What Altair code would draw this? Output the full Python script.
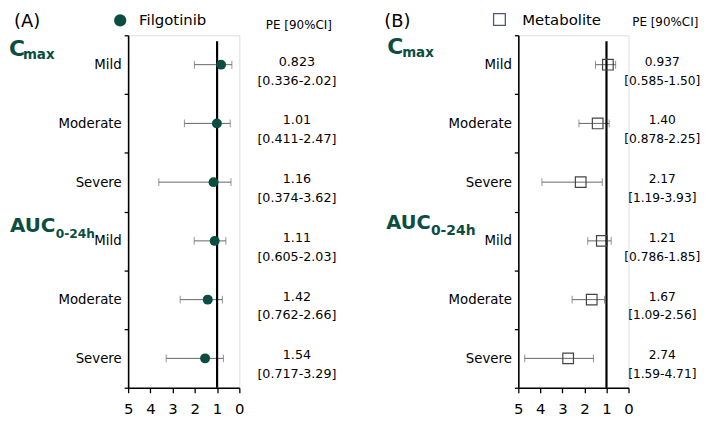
import altair as alt
import pandas as pd

keys = ["Cmax|Mild", "Cmax|Moderate", "Cmax|Severe", "AUC|Mild", "AUC|Moderate", "AUC|Severe"]

filgo_pe = [0.823, 1.01, 1.16, 1.11, 1.42, 1.54]
filgo_lo = [0.336, 0.411, 0.374, 0.605, 0.762, 0.717]
filgo_hi = [2.02, 2.47, 3.62, 2.03, 2.66, 3.29]
filgo_pe_txt = ["0.823", "1.01", "1.16", "1.11", "1.42", "1.54"]
filgo_ci_txt = ["[0.336-2.02]", "[0.411-2.47]", "[0.374-3.62]", "[0.605-2.03]", "[0.762-2.66]", "[0.717-3.29]"]

metab_pe = [0.937, 1.40, 2.17, 1.21, 1.67, 2.74]
metab_lo = [0.585, 0.878, 1.19, 0.786, 1.09, 1.59]
metab_hi = [1.50, 2.25, 3.93, 1.85, 2.56, 4.71]
metab_pe_txt = ["0.937", "1.40", "2.17", "1.21", "1.67", "2.74"]
metab_ci_txt = ["[0.585-1.50]", "[0.878-2.25]", "[1.19-3.93]", "[0.786-1.85]", "[1.09-2.56]", "[1.59-4.71]"]

x_ticks = [0, 1, 2, 3, 4, 5]

GREEN = "#0b4d40"
GRAY = "#666666"
H = 355
FONT = "DejaVu Sans"


def panel(pe, lo, hi, pe_txt, ci_txt, width, symbol, legend_name, tag, pos):
    df = pd.DataFrame({"key": keys, "pe": pe, "lo": lo, "hi": hi,
                       "pe_txt": pe_txt, "ci_txt": ci_txt})
    base = alt.Chart(df)
    y = alt.Y("key:N", sort=keys,
              scale=alt.Scale(paddingInner=0, paddingOuter=0),
              axis=alt.Axis(title=None, labelExpr="split(datum.label, '|')[1]",
                            tickBand="extent", tickSize=4, labelPadding=3,
                            labelFontSize=13.4, labelColor="black", labelFont=FONT,
                            domainColor="black", domainWidth=1.6, tickColor="black",
                            tickWidth=1.3, grid=False))
    xscale = alt.Scale(domain=[0, 5], reverse=True, nice=False)
    xaxis = alt.Axis(title=None, values=x_ticks, format="d", grid=False,
                     labelOverlap=False, labelFlush=False,
                     tickSize=5, labelPadding=9, labelFontSize=15,
                     labelColor="black", labelFont=FONT,
                     domainColor="black", domainWidth=1.6,
                     tickColor="black", tickWidth=1.3)

    def xe(field):
        return alt.X(field, scale=xscale, axis=xaxis)

    bars = base.mark_rule(color=GRAY, strokeWidth=1).encode(
        x=xe("lo:Q"), x2="hi:Q", y=y)
    cap_lo = base.mark_tick(color=GRAY, size=8, thickness=1).encode(
        x=xe("lo:Q"), y=y)
    cap_hi = base.mark_tick(color=GRAY, size=8, thickness=1).encode(
        x=xe("hi:Q"), y=y)

    ref = alt.Chart(pd.DataFrame({"ref": [1]})).mark_rule(
        color="black", strokeWidth=2.2).encode(
        x=xe("ref:Q"), y=alt.value(6), y2=alt.value(H))

    if symbol == "circle":
        pts = base.mark_circle(color=GREEN, size=100, opacity=1).encode(
            x=xe("pe:Q"), y=y)
        leg_sym = alt.Chart(pd.DataFrame({"n": [legend_name]})).mark_circle(
            color=GREEN, size=150, opacity=1).encode(
            x=alt.value(pos["sym"][0]), y=alt.value(pos["sym"][1]))
    else:
        pts = base.mark_square(filled=False, color="#444444", size=115,
                               strokeWidth=1.2, opacity=1).encode(
            x=xe("pe:Q"), y=y)
        leg_sym = alt.Chart(pd.DataFrame({"n": [legend_name]})).mark_square(
            filled=False, color="#4a5a78", size=140, strokeWidth=1.3,
            opacity=1).encode(
            x=alt.value(pos["sym"][0]), y=alt.value(pos["sym"][1]))

    pe_t = base.mark_text(fontSize=pos["vsize"], font=FONT, color="black", dy=-3).encode(
        y=y, x=alt.value(pos["txt"]), text="pe_txt:N")
    ci_t = base.mark_text(fontSize=pos["vsize"], font=FONT, color="black", dy=16).encode(
        y=y, x=alt.value(pos["txt"]), text="ci_txt:N")

    def label(text, xy, size, color="black", bold=False, align="left",
              baseline="middle"):
        return alt.Chart(pd.DataFrame({"t": [text]})).mark_text(
            fontSize=size, font=FONT, color=color,
            fontWeight="bold" if bold else "normal",
            align=align, baseline=baseline).encode(
            x=alt.value(xy[0]), y=alt.value(xy[1]), text="t:N")

    header = label("PE [90%CI]", pos["hdr"], 12, align="center")
    tag_t = label(tag, pos["tag"], 18, baseline="top")
    leg_t = label(legend_name, pos["leg"], 15, baseline="top")
    c_t = label("C", pos["C"], 22, GREEN, True, baseline="alphabetic")
    max_t = label("max", pos["max"], 13.5, GREEN, True, baseline="alphabetic")
    auc_t = label("AUC", pos["AUC"], pos["aucsize"], GREEN, True, baseline="alphabetic")
    sub_t = label("0-24h", pos["sub"], pos["subsize"], GREEN, True, baseline="alphabetic")

    return alt.layer(bars, cap_lo, cap_hi, ref, pts, pe_t, ci_t, header, tag_t,
                     leg_sym, leg_t, c_t, max_t, auc_t, sub_t).properties(
        width=width, height=H)


posA = {"sym": (-8, -15), "leg": (11, -22), "txt": 170, "hdr": (172, -10),
        "tag": (-115, -22), "C": (-120, 21), "max": (-106, 24),
        "AUC": (-119, 198), "sub": (-73, 204), "aucsize": 20, "subsize": 12.3,
        "vsize": 12.8}
posB = {"sym": (-19, -16), "leg": (4, -22), "txt": 145, "hdr": (148, -13),
        "tag": (-135, -22), "C": (-132, 19), "max": (-117, 22),
        "AUC": (-133, 195), "sub": (-88, 201), "aucsize": 19.5, "subsize": 14,
        "vsize": 12.3}

pA = panel(filgo_pe, filgo_lo, filgo_hi, filgo_pe_txt, filgo_ci_txt, 112,
           "circle", "Filgotinib", "(A)", posA)
pB = panel(metab_pe, metab_lo, metab_hi, metab_pe_txt, metab_ci_txt, 111,
           "square", "Metabolite", "(B)", posB)

chart = alt.hconcat(pA, pB, spacing=46).resolve_scale(x="independent", y="independent") \
    .configure_view(stroke=None).configure(font=FONT, padding=0)

chart.save("out.html", embed_options={"renderer": "svg", "actions": False})
